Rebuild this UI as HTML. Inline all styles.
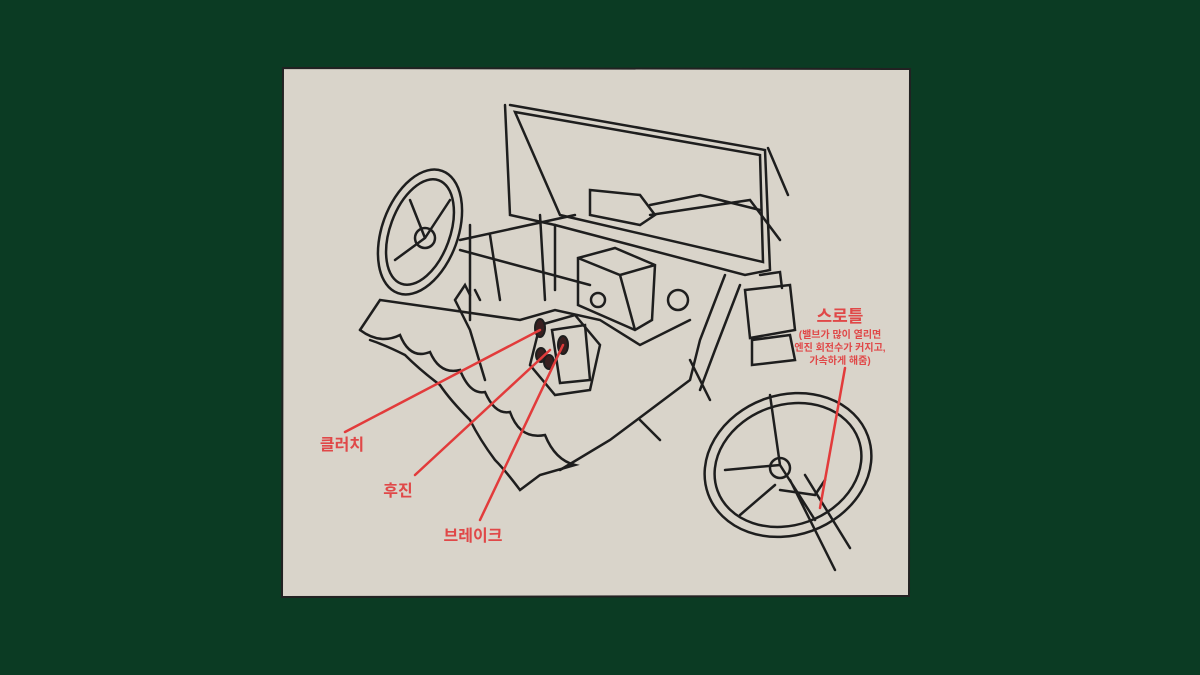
<!DOCTYPE html>
<html><head><meta charset="utf-8"><style>
body{margin:0;width:1200px;height:675px;background:#0b3b23;overflow:hidden;font-family:"Liberation Sans","Noto Sans CJK KR",sans-serif}
svg{position:absolute;left:0;top:0}
</style></head><body>
<svg width="1200" height="675" viewBox="0 0 1200 675">
<path d="M283 68 L910 69 L909 596 L282 597 Z" fill="#d9d4ca" stroke="#222" stroke-width="2"/>
<g fill="none" stroke="#1e1e1e" stroke-width="2.5" stroke-linecap="round">
<!-- left steering wheel -->
<ellipse cx="420" cy="232" rx="38" ry="65" transform="rotate(20 420 232)"/>
<ellipse cx="420" cy="232" rx="30" ry="55" transform="rotate(20 420 232)"/>
<circle cx="425" cy="238" r="10"/>
<path d="M425 238 L450 200 M425 238 L395 260 M425 238 L410 200"/>
<!-- windshield -->
<path d="M505 105 L510 215 L555 225 M510 105 L765 150 L770 270 L745 275 L555 225"/>
<path d="M515 112 L760 155 L763 262 L560 215 Z"/>
<path d="M768 148 L788 195"/>
<!-- dash frame -->
<path d="M460 240 L575 215 M460 250 L590 285 M470 225 L470 320 M490 235 L500 300 M540 215 L545 300 M555 225 L555 290 M650 215 L750 200 L780 240"/>
<path d="M590 190 L640 195 L655 215 L640 225 L590 215 Z M650 205 L700 195 L760 210"/>
<!-- box -->
<path d="M578 258 L615 248 L655 265 L652 320 L635 330 L578 305 Z M578 258 L620 275 L655 265 M620 275 L635 330"/>
<circle cx="598" cy="300" r="7"/>
<circle cx="678" cy="300" r="10"/>
<!-- lamp -->
<path d="M745 290 L790 285 L795 330 L750 338 Z M752 340 L790 335 L795 360 L752 365 Z"/>
<path d="M760 275 L780 272 L782 288"/>
<!-- body lines -->
<path d="M725 275 L700 340 L690 380 L610 440 L560 470 M740 285 L715 350 L700 390 M690 360 L710 400 M640 420 L660 440"/>
<path d="M360 330 L380 300 L520 320 L555 310 L600 320 L640 345 L690 320"/>
<path d="M470 295 L465 285 L455 300 L470 330 L485 380 M475 290 L480 300"/>
<!-- pedal area -->
<path d="M540 325 L575 315 L600 345 L590 390 L555 395 L530 365 Z"/>
<path d="M552 330 L585 325 L590 380 L560 383 Z"/>
<!-- fender scallops -->
<path d="M360 330 Q380 345 400 335 Q410 360 430 352 Q440 375 460 370 Q470 395 485 392 Q495 415 510 412 Q520 440 545 435 Q555 460 575 465 L540 475 L520 490 Q505 470 495 460 Q480 440 470 420 Q450 400 440 385 Q420 370 405 355 Q385 345 370 340"/>
<!-- right steering wheel -->
<ellipse cx="788" cy="465" rx="85" ry="70" transform="rotate(-20 788 465)"/>
<ellipse cx="788" cy="465" rx="75" ry="60" transform="rotate(-20 788 465)"/>
<path d="M780 465 L770 395 M780 465 L725 470 M780 465 L815 520 M790 480 L835 570 M805 475 L850 548"/>
<circle cx="780" cy="468" r="10"/>
<path d="M740 515 L775 485 M780 490 L815 495 L825 480"/>
</g>
<!-- pedals -->
<g fill="#3a2020" stroke="#1e1e1e" stroke-width="2">
<ellipse cx="540" cy="328" rx="5" ry="9"/><ellipse cx="541" cy="355" rx="5" ry="7"/>
<ellipse cx="563" cy="345" rx="5" ry="9"/><ellipse cx="549" cy="362" rx="5" ry="7"/>
</g>
<!-- red callouts -->
<g stroke="#e23b3b" stroke-width="2.5" fill="none" stroke-linecap="round">
<path d="M345 432 L540 330"/>
<path d="M415 475 L550 350"/>
<path d="M480 520 L563 345"/>
<path d="M845 368 L820 508"/>
</g>
<g fill="#e04848" font-weight="bold">
<text x="342" y="450" font-size="16" text-anchor="middle">클러치</text>
<text x="398" y="496" font-size="16" text-anchor="middle">후진</text>
<text x="473" y="541" font-size="16" text-anchor="middle">브레이크</text>
<text x="840" y="322" font-size="17" text-anchor="middle">스로틀</text>
<text x="840" y="338" font-size="10" text-anchor="middle">(밸브가 많이 열리면</text>
<text x="840" y="351" font-size="10" text-anchor="middle">엔진 회전수가 커지고,</text>
<text x="840" y="364" font-size="10" text-anchor="middle">가속하게 해줌)</text>
</g>
</svg>
</body></html>
